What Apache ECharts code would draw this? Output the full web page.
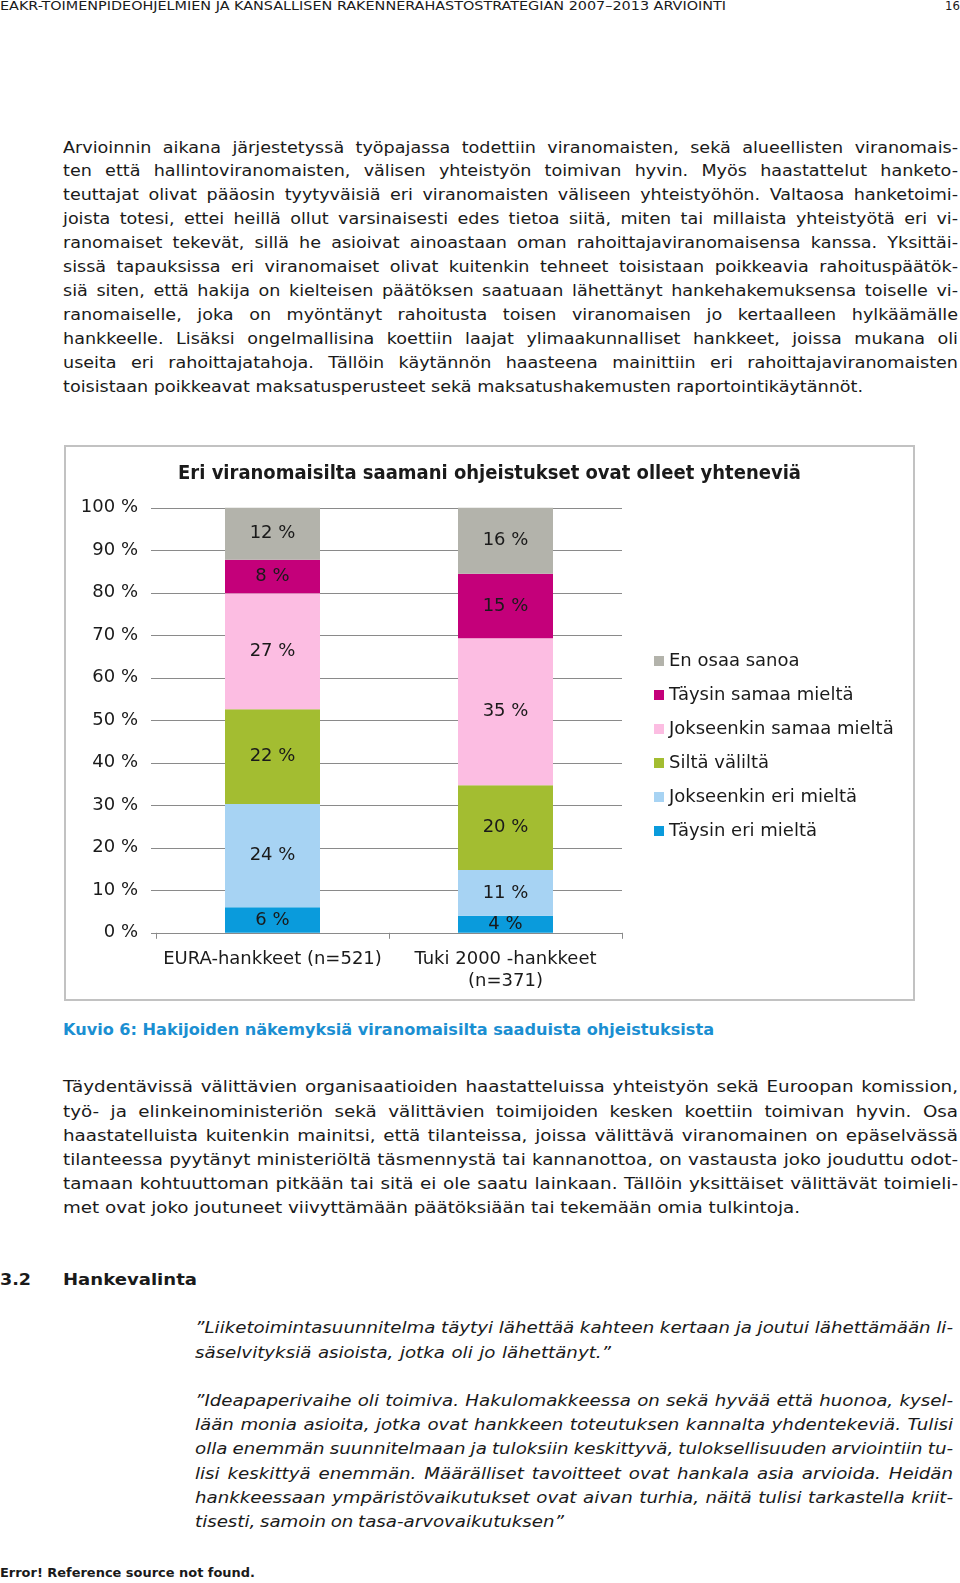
<!DOCTYPE html>
<html>
<head>
<meta charset="utf-8">
<script src="https://cdn.jsdelivr.net/npm/echarts@6/dist/echarts.min.js"></script>
<style>
  body { margin: 0; width: 960px; height: 1583px; position: relative; background: #fff; color: #1a1a1a; font-family: "DejaVu Sans", sans-serif; font-size: 16px; overflow: hidden; }
  .blk { position: absolute; }
  .ln { white-space: nowrap; }
  .ln span { display: inline-block; transform-origin: 0 50%; }
  .cond { font-family: "DejaVu Sans Condensed", "DejaVu Sans", sans-serif; }
  #frame { position: absolute; left: 64px; top: 445px; width: 851px; height: 556px; border: 2px solid #c2c2c2; box-sizing: border-box; }
  #chart { position: absolute; left: 64px; top: 445px; width: 851px; height: 556px; }
</style>
</head>
<body>

<div class="blk cond" style="left:0;top:-3px;font-size:13px;line-height:18px;">
  <div class="ln"><span data-w="726" data-mode="scale">EAKR-TOIMENPIDEOHJELMIEN JA KANSALLISEN RAKENNERAHASTOSTRATEGIAN 2007–2013 ARVIOINTI</span></div>
</div>
<div class="blk cond" style="left:945px;top:-3px;font-size:13px;line-height:18px;">16</div>

<div class="blk txt" style="left:63px;top:135.5px;line-height:23.92px;">
  <div class="ln"><span data-w="895">Arvioinnin aikana järjestetyssä työpajassa todettiin viranomaisten, sekä alueellisten viranomais-</span></div>
  <div class="ln"><span data-w="895">ten että hallintoviranomaisten, välisen yhteistyön toimivan hyvin. Myös haastattelut hanketo-</span></div>
  <div class="ln"><span data-w="895">teuttajat olivat pääosin tyytyväisiä eri viranomaisten väliseen yhteistyöhön. Valtaosa hanketoimi-</span></div>
  <div class="ln"><span data-w="895">joista totesi, ettei heillä ollut varsinaisesti edes tietoa siitä, miten tai millaista yhteistyötä eri vi-</span></div>
  <div class="ln"><span data-w="895">ranomaiset tekevät, sillä he asioivat ainoastaan oman rahoittajaviranomaisensa kanssa. Yksittäi-</span></div>
  <div class="ln"><span data-w="895">sissä tapauksissa eri viranomaiset olivat kuitenkin tehneet toisistaan poikkeavia rahoituspäätök-</span></div>
  <div class="ln"><span data-w="895">siä siten, että hakija on kielteisen päätöksen saatuaan lähettänyt hankehakemuksensa toiselle vi-</span></div>
  <div class="ln"><span data-w="895">ranomaiselle, joka on myöntänyt rahoitusta toisen viranomaisen jo kertaalleen hylkäämälle</span></div>
  <div class="ln"><span data-w="895">hankkeelle. Lisäksi ongelmallisina koettiin laajat ylimaakunnalliset hankkeet, joissa mukana oli</span></div>
  <div class="ln"><span data-w="895">useita eri rahoittajatahoja. Tällöin käytännön haasteena mainittiin eri rahoittajaviranomaisten</span></div>
  <div class="ln"><span data-w="800" data-cal="1">toisistaan poikkeavat maksatusperusteet sekä maksatushakemusten raportointikäytännöt.</span></div>
</div>

<div id="frame"></div>
<div id="chart"></div>

<div class="blk cond" style="left:63px;top:1019px;font-size:16px;line-height:22px;font-weight:bold;color:#1b8fd2;">
  <div class="ln"><span data-w="651" data-mode="scale">Kuvio 6: Hakijoiden näkemyksiä viranomaisilta saaduista ohjeistuksista</span></div>
</div>

<div class="blk txt" style="left:63px;top:1075.3px;line-height:24.24px;">
  <div class="ln"><span data-w="895">Täydentävissä välittävien organisaatioiden haastatteluissa yhteistyön sekä Euroopan komission,</span></div>
  <div class="ln"><span data-w="895">työ- ja elinkeinoministeriön sekä välittävien toimijoiden kesken koettiin toimivan hyvin. Osa</span></div>
  <div class="ln"><span data-w="895">haastatelluista kuitenkin mainitsi, että tilanteissa, joissa välittävä viranomainen on epäselvässä</span></div>
  <div class="ln"><span data-w="895">tilanteessa pyytänyt ministeriöltä täsmennystä tai kannanottoa, on vastausta joko jouduttu odot-</span></div>
  <div class="ln"><span data-w="895">tamaan kohtuuttoman pitkään tai sitä ei ole saatu lainkaan. Tällöin yksittäiset välittävät toimieli-</span></div>
  <div class="ln"><span data-w="737" data-cal="1">met ovat joko joutuneet viivyttämään päätöksiään tai tekemään omia tulkintoja.</span></div>
</div>

<div class="blk" style="left:0;top:1268px;line-height:24px;font-weight:bold;">
  <div class="ln"><span data-w="31" data-mode="scale">3.2</span></div>
</div>
<div class="blk" style="left:63px;top:1268px;line-height:24px;font-weight:bold;">
  <div class="ln"><span data-w="134" data-mode="scale">Hankevalinta</span></div>
</div>

<div class="blk txt" style="left:195px;top:1316.4px;line-height:24.2px;font-style:italic;">
  <div class="ln"><span data-w="758">”Liiketoimintasuunnitelma täytyi lähettää kahteen kertaan ja joutui lähettämään li-</span></div>
  <div class="ln"><span data-w="416" data-cal="1">säselvityksiä asioista, jotka oli jo lähettänyt.”</span></div>
  <div class="ln">&nbsp;</div>
  <div class="ln"><span data-w="758">”Ideapaperivaihe oli toimiva. Hakulomakkeessa on sekä hyvää että huonoa, kysel-</span></div>
  <div class="ln"><span data-w="758">lään monia asioita, jotka ovat hankkeen toteutuksen kannalta yhdentekeviä. Tulisi</span></div>
  <div class="ln"><span data-w="758">olla enemmän suunnitelmaan ja tuloksiin keskittyvä, tuloksellisuuden arviointiin tu-</span></div>
  <div class="ln"><span data-w="758">lisi keskittyä enemmän. Määrälliset tavoitteet ovat hankala asia arvioida. Heidän</span></div>
  <div class="ln"><span data-w="758">hankkeessaan ympäristövaikutukset ovat aivan turhia, näitä tulisi tarkastella kriit-</span></div>
  <div class="ln"><span data-w="369" data-cal="1">tisesti, samoin on tasa-arvovaikutuksen”</span></div>
</div>

<div class="blk" style="left:0;top:1564px;font-size:12px;line-height:18px;font-weight:bold;">
  <div class="ln"><span data-w="255" data-mode="scale">Error! Reference source not found.</span></div>
</div>

<script>
// data (share of answers, %)
var categories = ['EURA-hankkeet (n=521)', 'Tuki 2000 -hankkeet\n(n=371)'];
var seriesNames = ['Täysin eri mieltä', 'Jokseenkin eri mieltä', 'Siltä väliltä',
                   'Jokseenkin samaa mieltä', 'Täysin samaa mieltä', 'En osaa sanoa'];
var taysinEri = [6.0, 4.0];
var jokseenkinEri = [24.3, 10.8];
var siltaValilta = [22.3, 19.9];
var jokseenkinSamaa = [27.3, 34.6];
var taysinSamaa = [7.9, 15.2];
var enOsaa = [12.2, 15.5];
var colors = ['#0a9bdc', '#a7d3f3', '#a3bd31', '#fcbde2', '#c4007a', '#b3b3ab'];

// body text: widen glyphs from the unjustified lines, then justify with word spacing
document.querySelectorAll('.txt').forEach(function (blk) {
    var cal = blk.querySelectorAll('[data-cal]');
    var s = 0;
    cal.forEach(function (el) {
        s += +el.getAttribute('data-w') / el.getBoundingClientRect().width;
    });
    s = cal.length ? s / cal.length : 1;
    blk.querySelectorAll('[data-w]').forEach(function (el) {
        var target = +el.getAttribute('data-w') / s;
        var w = el.getBoundingClientRect().width;
        var spaces = (el.textContent.match(/ /g) || []).length;
        if (spaces) el.style.wordSpacing = ((target - w) / spaces) + 'px';
        el.style.transform = 'scaleX(' + s + ')';
        el.setAttribute('data-done', '1');
    });
});
document.querySelectorAll('[data-w]:not([data-done])').forEach(function (el) {
    var target = +el.getAttribute('data-w');
    var w = el.getBoundingClientRect().width;
    el.style.transform = 'scaleX(' + (target / w) + ')';
});

var chart = echarts.init(document.getElementById('chart'));
var values = [taysinEri, jokseenkinEri, siltaValilta, jokseenkinSamaa, taysinSamaa, enOsaa];
var series = seriesNames.map(function (name, i) {
    return {
        name: name,
        type: 'bar',
        stack: 'all',
        barWidth: 95,
        itemStyle: {color: colors[i]},
        label: {
            show: true,
            position: 'inside',
            fontFamily: 'DejaVu Sans',
            fontSize: 18,
            color: '#1a1a1a',
            formatter: function (p) {
                return Math.round(p.value) + ' %';
            }
        },
        data: values[i]
    };
});

var option = {
    animation: false,
    title: {
        text: 'Eri viranomaisilta saamani ohjeistukset ovat olleet yhteneviä',
        left: 'center',
        top: 14,
        textStyle: {
            fontFamily: 'DejaVu Sans Condensed',
            fontWeight: 'bold',
            fontSize: 20,
            color: '#1a1a1a'
        }
    },
    legend: {
        orient: 'vertical',
        left: 585,
        top: 201,
        itemWidth: 10,
        itemHeight: 10,
        itemGap: 14,
        icon: 'rect',
        data: seriesNames.slice().reverse(),
        textStyle: {fontFamily: 'DejaVu Sans', fontSize: 18, lineHeight: 20, color: '#1a1a1a'}
    },
    grid: {left: 92, right: 293, top: 62.8, bottom: 68.2, containLabel: false, outerBoundsMode: 'none'},
    xAxis: {
        type: 'category',
        data: categories,
        axisLine: {lineStyle: {color: '#8a8a8a'}},
        axisTick: {show: true, length: 6, lineStyle: {color: '#8a8a8a'}},
        axisLabel: {
            interval: 0,
            margin: 16,
            fontFamily: 'DejaVu Sans',
            fontSize: 18,
            lineHeight: 22,
            color: '#1a1a1a'
        }
    },
    yAxis: {
        type: 'value',
        min: 0,
        max: 100,
        interval: 10,
        axisLine: {show: false},
        axisTick: {show: true, length: 5, lineStyle: {color: '#8a8a8a'}},
        splitLine: {lineStyle: {color: '#8a8a8a', width: 1}},
        axisLabel: {
            margin: 18,
            fontFamily: 'DejaVu Sans',
            fontSize: 18,
            color: '#1a1a1a',
            formatter: '{value} %'
        }
    },
    series: series
};
chart.setOption(option);
</script>
</body>
</html>
